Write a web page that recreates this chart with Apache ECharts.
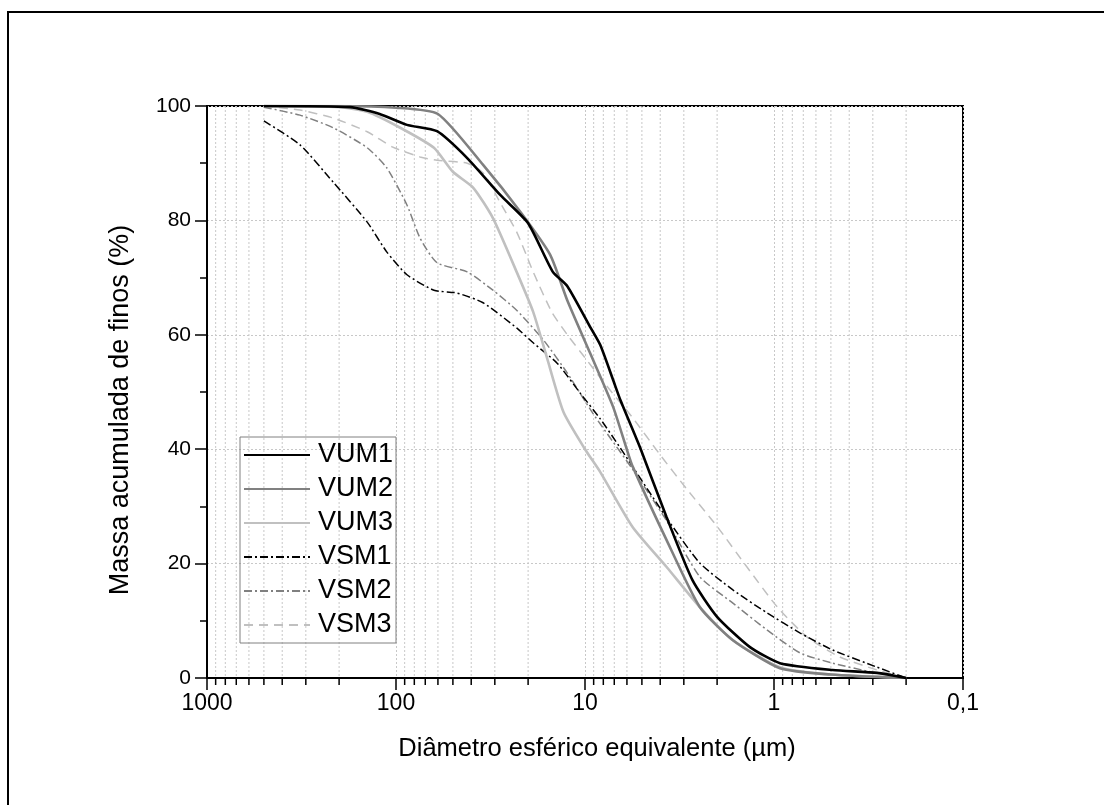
<!DOCTYPE html>
<html>
<head>
<meta charset="utf-8">
<script src="https://cdn.jsdelivr.net/npm/echarts@6/dist/echarts.min.js"></script>
<style>html,body{margin:0;padding:0;background:#fff}#c{width:1104px;height:805px}</style>
</head>
<body>
<div id="c"></div>
<script>
// ---- data (diameter in µm, cumulative mass of fines in %) ----
const seriesNames = ['VUM1','VUM2','VUM3','VSM1','VSM2','VSM3'];

const vum1_d = [500,175,122,87.5,60.7,42,28,20,14.8,12.4,9.4,8.3,7.1,6.5,5.1,3.7,2.7,2.0,1.34,0.93,0.49,0.285,0.2];
const vum1_v = [100,99.8,98.6,96.7,95.6,90.9,84.4,79.5,71,68.5,61.4,58.2,52.1,48.6,40.2,28.1,17.1,10.7,5.4,2.6,1.4,0.9,0];

const vum2_d = [500,200,100,60,34.6,22,15.3,12.4,9.4,7.1,6.0,5.6,3.7,2.47,1.65,0.93,0.5,0.2];
const vum2_v = [100,100,99.7,98.6,89.7,81.5,74,66,56.8,47.4,39.9,37,24.1,12.4,6.6,1.7,0.6,0];

const vum3_d = [500,200,142,95,63,50,39,30.7,23,18.8,15.9,13,10,8.3,5.6,3.7,2.47,1.65,0.93,0.5,0.2];
const vum3_v = [100,99.8,99,96.2,92.7,88.5,85.7,80.4,71,64,56,46.5,40,36,26.4,19.4,12.4,6.6,1.9,0.6,0];

const vsm1_d = [500,322,215,142,112,87.5,63,47.5,34.6,23,18.8,14,10.6,8.3,6.5,3.7,2.47,1.65,1.09,0.73,0.49,0.285,0.2];
const vsm1_v = [97.4,93.2,86.7,79.7,74.5,70.5,67.8,67.3,65.6,61.2,58.6,55,49.8,45.3,40.2,28,20.1,15.4,11.4,7.9,4.9,1.9,0];

const vsm2_d = [500,322,215,142,112,87.5,74.6,60.7,42,30.7,23,16.6,12.4,9.1,6.8,5.6,3.7,2.47,1.65,1.09,0.73,0.49,0.3,0.2];
const vsm2_v = [99.8,98.4,96.2,92.7,89.2,82.7,76.9,72.6,71,67.8,64.3,59.1,53.3,46.3,40.4,36.5,27.5,17.7,13.1,8.4,4.4,2.6,1,0];

const vsm3_d = [500,322,215,142,104,74.6,60.7,42,34.6,28,23,18.8,15,12.4,10,7.65,5.6,4.0,2.89,2.0,1.39,0.96,0.67,0.45,0.285,0.2];
const vsm3_v = [100,99.3,97.9,95.5,92.8,91.1,90.5,90,88.3,83,78,71,64,60,56,51,45.5,39,33,26.5,19.4,12.4,7.2,3.7,1.4,0];

// axis structure
const xMinorTicks = [0.2,0.3,0.4,0.5,0.6,0.7,0.8,0.9,2,3,4,5,6,7,8,9,20,30,40,50,60,70,80,90,200,300,400,500,600,700,800,900];

const pairs = (d, v) => d.map((x, i) => [x, v[i]]);

const styles = [
  {color:'#000000', width:2.6, type:'solid'},
  {color:'#808080', width:2.6, type:'solid'},
  {color:'#c0c0c0', width:2.6, type:'solid'},
  {color:'#000000', width:1.5, type:[8,3,2,3]},
  {color:'#808080', width:1.5, type:[8,3,2,3]},
  {color:'#c0c0c0', width:1.5, type:[9,6]}
];
const dataSets = [pairs(vum1_d,vum1_v),pairs(vum2_d,vum2_v),pairs(vum3_d,vum3_v),pairs(vsm1_d,vsm1_v),pairs(vsm2_d,vsm2_v),pairs(vsm3_d,vsm3_v)];

const FONT = "'Liberation Sans', Arial, sans-serif";

const minorSeries = {
  type: 'custom',
  name: 'minor',
  silent: true,
  clip: false,
  data: xMinorTicks.map(v => [v, 0]),
  renderItem: function (params, api) {
    const v = api.value(0);
    const top = api.coord([v, 100]);
    const bot = api.coord([v, 0]);
    return {
      type: 'group',
      children: [
        {type:'line', shape:{x1:bot[0], y1:top[1], x2:bot[0], y2:bot[1]}, style:{stroke:'#c8c8c8', lineWidth:1, lineDash:[2,2]}},
        {type:'line', shape:{x1:bot[0], y1:bot[1], x2:bot[0], y2:bot[1]+7}, style:{stroke:'#000', lineWidth:1.5}}
      ]
    };
  }
};

const lineSeries = seriesNames.map((n, i) => ({
  name: n,
  type: 'line',
  data: dataSets[i],
  symbol: 'none',
  smooth: 0.2,
  color: styles[i].color,
  lineStyle: {color: styles[i].color, width: styles[i].width, type: styles[i].type},
  z: 3 + (5 - i)
}));

const chart = echarts.init(document.getElementById('c'), null, {renderer: 'canvas'});
chart.setOption({
  animation: false,
  backgroundColor: '#fff',
  grid: {left: 207, right: 141, top: 106, bottom: 127, show: true, borderColor: '#000', borderWidth: 2, backgroundColor: 'transparent'},
  xAxis: {
    type: 'log', logBase: 10, min: 0.1, max: 1000, inverse: true,
    axisLine: {show: true, onZero: false, lineStyle: {color: '#000', width: 2}},
    axisTick: {show: true, length: 12, lineStyle: {color: '#000', width: 1.5}},
    axisLabel: {color: '#000', fontSize: 23, fontFamily: FONT, margin: 14,
      formatter: v => String(v).replace('.', ',')},
    splitLine: {show: true, lineStyle: {color: '#c8c8c8', type: [2,2], width: 1}}
  },
  yAxis: {
    type: 'value', min: 0, max: 100, interval: 20,
    axisLine: {show: true, lineStyle: {color: '#000', width: 2}},
    axisTick: {show: true, length: 12, lineStyle: {color: '#000', width: 1.5}},
    minorTick: {show: true, splitNumber: 2, length: 7, lineStyle: {color: '#000', width: 1.5}},
    axisLabel: {color: '#000', fontSize: 21, fontFamily: FONT, margin: 16},
    splitLine: {show: true, lineStyle: {color: '#c8c8c8', type: [2,2], width: 1}}
  },
  legend: {
    data: seriesNames,
    orient: 'vertical',
    left: 240, top: 437,
    itemWidth: 66, itemHeight: 14, itemGap: 0,
    padding: [1, 3, 1, 3],
    borderColor: '#808080', borderWidth: 1,
    backgroundColor: 'transparent',
    itemStyle: {opacity: 0},
    textStyle: {color: '#000', fontSize: 27, fontFamily: FONT, lineHeight: 34, padding: [0, 0, 0, 3]}
  },
  graphic: [
    {type: 'rect', shape: {x: 8, y: 12, width: 1200, height: 900}, style: {fill: 'none', stroke: '#000', lineWidth: 2}, silent: true, z: 100},
    {type: 'text', x: 597, y: 749, style: {text: 'Diâmetro esférico equivalente (µm)', font: '25.5px ' + FONT, fill: '#000', textAlign: 'center', textVerticalAlign: 'middle'}},
    {type: 'text', x: 121, y: 410, rotation: Math.PI / 2, style: {text: 'Massa acumulada de finos (%)', font: '27px ' + FONT, fill: '#000', textAlign: 'center', textVerticalAlign: 'middle'}}
  ],
  series: [minorSeries].concat(lineSeries)
});
</script>
</body>
</html>
